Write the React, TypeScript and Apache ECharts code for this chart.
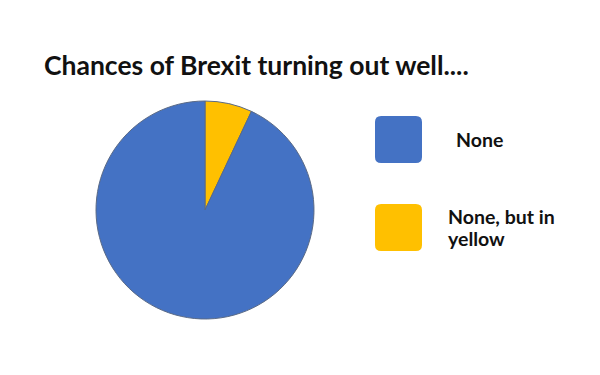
import React, { useEffect, useRef } from "react";
import * as echarts from "echarts";

const titleText = "Chances of Brexit turning out well....";
const categories = ["None, but in yellow", "None"];
const legendLabels = ["None", "None, but in\nyellow"];
const values = [7, 93];
const colors = ["#FFC000", "#4472C4"];

const ROUND_RECT =
  "path://M13,0H87Q100,0 100,13V87Q100,100 87,100H13Q0,100 0,87V13Q0,0 13,0Z";

export default function App() {
  const ref = useRef<HTMLDivElement>(null);
  useEffect(() => {
    if (!ref.current) return;
    const chart = echarts.init(ref.current, undefined, { renderer: "svg" });
    chart.setOption({
      animation: false,
      backgroundColor: "#ffffff",
      title: {
        text: titleText,
        left: 44,
        top: 51,
        padding: 0,
        textStyle: {
          fontFamily: "Lato",
          fontWeight: "bold",
          fontSize: 26.5,
          color: "#111111",
        },
      },
      legend: {
        orient: "vertical",
        left: 375,
        top: 116,
        padding: 0,
        itemWidth: 47,
        itemHeight: 48,
        itemGap: 41,
        icon: ROUND_RECT,
        data: ["None", "None, but in yellow"],
        itemStyle: { borderWidth: 0 },
        formatter: (name: string) =>
          name === "None" ? "{a|" + legendLabels[0] + "}" : "{b|None, but in}\n{b|yellow}",
        textStyle: {
          fontFamily: "Lato",
          fontWeight: "bold",
          fontSize: 19.5,
          color: "#111111",
          rich: {
            a: {
              fontFamily: "Lato",
              fontWeight: "bold",
              fontSize: 19.5,
              color: "#111111",
              padding: [0, 0, 0, 29],
            },
            b: {
              fontFamily: "Lato",
              fontWeight: "bold",
              fontSize: 19.5,
              color: "#111111",
              lineHeight: 22,
              padding: [0, 0, 0, 21],
            },
          },
        },
      },
      series: [
        {
          type: "pie",
          center: [205, 210],
          radius: 109,
          startAngle: 90,
          clockwise: true,
          label: { show: false },
          labelLine: { show: false },
          emphasis: { disabled: true },
          itemStyle: { borderColor: "#5a6a86", borderWidth: 1 },
          data: categories.map((c, i) => ({
            name: c,
            value: values[i],
            itemStyle: { color: colors[i] },
          })),
        },
      ],
    });
    return () => chart.dispose();
  }, []);
  return <div ref={ref} style={{ width: 600, height: 375, margin: -8 }} />;
}
